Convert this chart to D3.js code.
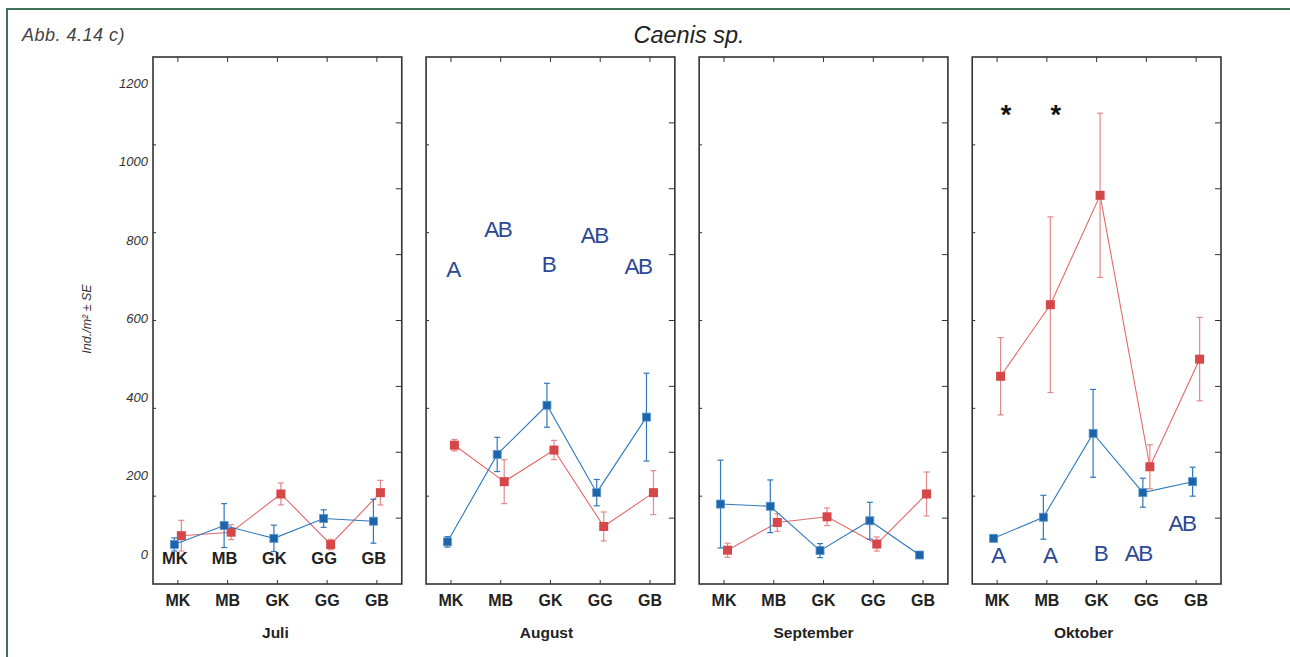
<!DOCTYPE html>
<html><head><meta charset="utf-8">
<script src="https://cdn.jsdelivr.net/npm/d3@7"></script>
<style>body{margin:0;background:#fff}svg{display:block}</style>
</head><body>
<script>
// ---------- data ----------
const sites = ["MK","MB","GK","GG","GB"];
const months = ["Juli","August","September","Oktober"];
const blueMean = [[90,133,104,149,143],[96,295,407,208,380],[182,177,76,144,66],[104,152,343,208,233]];
const blueSE   = [[15,50,30,20,50],[12,39,50,30,100],[100,60,16,42,4],[5,50,100,33,33]];
const redMean  = [[110,118,205,90,208],[316,233,305,131,208],[77,140,153,91,205],[473,636,885,267,512]];
const redSE    = [[35,17,25,12,28],[13,50,22,33,50],[16,20,20,16,50],[88,200,187,50,95]];
const yTickLabels = [0,200,400,600,800,1000,1200];
const leftTicks = [200,400,600,800,1000];
const rightTicks = [150,300,450,600,750,900,1050];
const augLetters = ["A","AB","B","AB","AB"];
const augLetterY = [699,790,710,776,706];
const octLetters = ["A","A","B","AB","AB"];
const octLetterY = [48,48,52,52,121];
const octStars = ["*","*","","",""];
const starY = 1047;

// ---------- layout ----------
const W = 1290, H = 657;
const svg = d3.select("body").append("svg").attr("width", W).attr("height", H);
svg.append("rect").attr("width", W).attr("height", H).attr("fill", "#fff");
svg.append("path").attr("d", "M7,657V9H1290").attr("fill", "none")
  .attr("stroke", "#3f7356").attr("stroke-width", 2);

const font = "'Liberation Sans', Arial, sans-serif";
svg.append("text").attr("x", 22).attr("y", 41).attr("font-family", font)
  .attr("font-style", "italic").attr("font-size", 18).attr("letter-spacing", 0.5)
  .attr("fill", "#444").text("Abb. 4.14 c)");
svg.append("text").attr("x", 689).attr("y", 43).attr("text-anchor", "middle").attr("font-family", font)
  .attr("font-style", "italic").attr("font-size", 23.5).attr("fill", "#222").text("Caenis sp.");

const y = d3.scaleLinear().domain([0, 1200]).range([584, 57]);
const yLab = d3.scaleLinear().domain([0, 1200]).range([554, 83.3]);
const px = d3.scaleBand().domain(months).range([153, 1221]).paddingInner(0.089);
const bw = px.bandwidth();
const x = d3.scalePoint().domain(sites).range([0, bw]).padding(0.5);
const monthDx = [-2, -4, -10, -13];

// y tick labels
svg.append("g").selectAll("text").data(yTickLabels).join("text")
  .attr("x", 148).attr("y", d => yLab(d)).attr("dy", "0.36em").attr("text-anchor", "end")
  .attr("font-family", font).attr("font-style", "italic").attr("font-size", 13).attr("fill", "#333")
  .text(d => d);
svg.append("text").attr("transform", "translate(91,319) rotate(-90)").attr("text-anchor", "middle")
  .attr("font-family", font).attr("font-style", "italic").attr("font-size", 12.5).attr("fill", "#333")
  .text("Ind./m² ± SE");

const BLUE = "#1c65ab", BLUE_L = "#2f78bb", RED = "#d54749", RED_L = "#e26a6a", RED_E = "#e48a8a";
const dodge = 3.5;

months.forEach((m, i) => {
  const g = svg.append("g").attr("transform", `translate(${px(m)},0)`);
  const top = y.range()[1], bot = y.range()[0];
  // ticks
  g.selectAll(".lt").data(leftTicks).join("line").attr("x1", 0).attr("x2", 3)
    .attr("y1", d => y(d)).attr("y2", d => y(d)).attr("stroke", "#333").attr("stroke-width", 1);
  g.selectAll(".rt").data(rightTicks).join("line").attr("x1", bw - 6).attr("x2", bw)
    .attr("y1", d => y(d)).attr("y2", d => y(d)).attr("stroke", "#333").attr("stroke-width", 1);
  g.selectAll(".tt").data(sites).join("line").attr("x1", d => x(d)).attr("x2", d => x(d))
    .attr("y1", top).attr("y2", top + 5).attr("stroke", "#333").attr("stroke-width", 1);
  g.selectAll(".bt").data(sites).join("line").attr("x1", d => x(d)).attr("x2", d => x(d))
    .attr("y1", bot).attr("y2", bot - 4).attr("stroke", "#333").attr("stroke-width", 1);
  // frame
  g.append("rect").attr("x", 0).attr("y", top).attr("width", bw).attr("height", bot - top)
    .attr("fill", "none").attr("stroke", "#333").attr("stroke-width", 1.6);

  const series = [
    {mean: redMean[i], se: redSE[i], dx: dodge, line: RED_L, err: RED_E, fill: RED, size: 9},
    {mean: blueMean[i], se: blueSE[i], dx: -dodge, line: BLUE_L, err: BLUE_L, fill: BLUE, size: 8}
  ];
  series.forEach(s => {
    const pts = sites.map((c, j) => ({c, v: s.mean[j], e: s.se[j]}));
    g.append("path").datum(pts).attr("fill", "none").attr("stroke", s.line).attr("stroke-width", 1.1)
      .attr("d", d3.line().x(d => x(d.c) + s.dx).y(d => y(d.v)));
    const eb = g.append("g").attr("stroke", s.err).attr("stroke-width", 1.2);
    eb.selectAll(".v").data(pts).join("line")
      .attr("x1", d => x(d.c) + s.dx).attr("x2", d => x(d.c) + s.dx)
      .attr("y1", d => y(d.v + d.e)).attr("y2", d => y(d.v - d.e));
    [1, -1].forEach(sg => {
      eb.selectAll(".c" + sg).data(pts).join("line")
        .attr("x1", d => x(d.c) + s.dx - 3).attr("x2", d => x(d.c) + s.dx + 3)
        .attr("y1", d => y(d.v + sg * d.e)).attr("y2", d => y(d.v + sg * d.e));
    });
    g.selectAll(".m").data(pts).join("rect")
      .attr("x", d => x(d.c) + s.dx - s.size / 2).attr("y", d => y(d.v) - s.size / 2)
      .attr("width", s.size).attr("height", s.size).attr("fill", s.fill)
      .attr("stroke", s === series[1] ? "#5d95cc" : "none").attr("stroke-width", 0.8);
  });

  // category labels
  g.selectAll(".cl").data(sites).join("text").attr("x", d => x(d)).attr("y", 606)
    .attr("text-anchor", "middle").attr("font-family", font).attr("font-weight", "bold")
    .attr("font-size", 16).attr("fill", "#222").text(d => d);
  g.append("text").attr("x", bw / 2 + monthDx[i]).attr("y", 638).attr("text-anchor", "middle")
    .attr("font-family", font).attr("font-weight", "bold").attr("font-size", 15.5).attr("fill", "#222").text(m);

  if (i === 0) {
    g.selectAll(".il").data(sites).join("text").attr("x", d => x(d) - 3).attr("y", 564)
      .attr("text-anchor", "middle").attr("font-family", font).attr("font-weight", "bold")
      .attr("font-size", 16.5).attr("fill", "#222").text(d => d);
  }
  const LET = "#2b4795";
  if (i === 1) {
    const dxs = [2, -3, -2, -6, -12];
    g.selectAll(".lt2").data(augLetters).join("text").attr("x", (d, j) => x(sites[j]) + dxs[j])
      .attr("y", (d, j) => y(augLetterY[j])).attr("text-anchor", "middle").attr("font-family", font)
      .attr("font-size", 22.5).attr("letter-spacing", -1.5).attr("fill", LET).text(d => d);
  }
  if (i === 3) {
    const dxs = [1, 3, 4, -8, -14];
    g.selectAll(".lt4").data(octLetters).join("text").attr("x", (d, j) => x(sites[j]) + dxs[j])
      .attr("y", (d, j) => y(octLetterY[j])).attr("text-anchor", "middle").attr("font-family", font)
      .attr("font-size", 22.5).attr("letter-spacing", -1.5).attr("fill", LET).text(d => d);
    g.selectAll(".st").data(octStars).join("text").attr("x", (d, j) => x(sites[j]) + 9)
      .attr("y", y(starY)).attr("text-anchor", "middle").attr("font-family", font)
      .attr("font-weight", "bold").attr("font-size", 27).attr("fill", "#111").text(d => d);
  }
});
</script>
</body></html>
